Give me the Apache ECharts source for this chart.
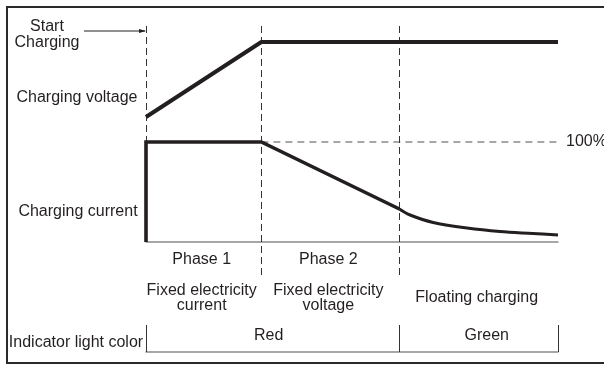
<!DOCTYPE html>
<html>
<head>
<meta charset="utf-8">
<script src="https://cdn.jsdelivr.net/npm/echarts@6/dist/echarts.min.js"></script>
<style>
  html, body { margin: 0; padding: 0; background: #ffffff; }
  #chart { width: 604px; height: 365px; }
</style>
</head>
<body>
<div id="chart"></div>
<script>
// Time axis (arbitrary units): start of charging, end of phase 1, end of phase 2, end of plot
const phaseEdges = [0, 2.8, 6.15, 10];
const phaseNames = ['Phase 1', 'Phase 2'];
const modeNames = ['Fixed electricity\ncurrent', 'Fixed electricity\nvoltage', 'Floating charging'];
const lightNames = ['Red', 'Green'];
const lightEdges = [0, 6.15, 10];

// Charging voltage (relative level, 0..100)
const voltageTime = [0, 2.8, 10];
const voltageLevel = [25, 100, 100];

// Charging current (% of rated current): constant part and linear decline
const currentTime = [0, 0, 2.8, 6.15];
const currentLevel = [0, 100, 100, 33];

// Charging current: floating tail
const tailTime = [6.15, 6.41, 6.97, 7.79, 8.59, 9.39, 10];
const tailLevel = [33, 27, 19.5, 14, 10.5, 8.5, 7];

const fullLevel = 100;

const zip = (a, b) => a.map((v, i) => [v, b[i]]);
const INK = '#231f20';
const FONT = '"Liberation Sans", Arial, sans-serif';

const chart = echarts.init(document.getElementById('chart'), null, { renderer: 'canvas' });

const hiddenY = (min, max, gridIndex) => ({
  type: 'value', gridIndex, min, max, show: false, splitLine: { show: false }
});

const option = {
  backgroundColor: '#ffffff',
  animation: false,
  grid: [
    { left: 146, width: 412, top: 42, height: 100 },   // voltage
    { left: 146, width: 412, top: 23, height: 252 },   // current + phase lines
    { left: 146, width: 412, top: 325, height: 27 }    // indicator row
  ],
  xAxis: [
    { type: 'value', gridIndex: 0, min: 0, max: 10, show: false },
    {
      type: 'value', gridIndex: 1, min: 0, max: 10,
      axisLine: { show: true, onZero: true, lineStyle: { color: '#8a8a8a', width: 1.5 } },
      axisTick: { show: false }, axisLabel: { show: false }, splitLine: { show: false }
    },
    {
      type: 'value', gridIndex: 2, min: 0, max: 10,
      axisLine: { show: true, lineStyle: { color: '#8a8a8a', width: 1.5 } },
      axisTick: { show: false }, axisLabel: { show: false }, splitLine: { show: false }
    }
  ],
  yAxis: [
    hiddenY(0, 100, 0),
    hiddenY(-33, 219, 1),
    hiddenY(0, 1, 2)
  ],
  series: [
    {
      name: 'Charging voltage', type: 'line', xAxisIndex: 0, yAxisIndex: 0,
      data: zip(voltageTime, voltageLevel), symbol: 'none', clip: false, z: 5,
      lineStyle: { color: INK, width: 4 }
    },
    {
      name: 'Charging current', type: 'line', xAxisIndex: 1, yAxisIndex: 1,
      data: zip(currentTime, currentLevel), symbol: 'none', clip: false, z: 5,
      lineStyle: { color: INK, width: 3.6, join: 'miter' },
      markLine: {
        silent: true, symbol: 'none',
        lineStyle: { color: '#8a8a8a', type: [7, 5], width: 1.5 },
        label: {
          show: true, position: 'end', distance: 8, formatter: '100%',
          color: INK, fontSize: 16, fontFamily: FONT
        },
        data: [[{ coord: [phaseEdges[1], fullLevel] }, { coord: [phaseEdges[3], fullLevel] }]]
      }
    },
    {
      name: 'Floating current', type: 'line', xAxisIndex: 1, yAxisIndex: 1,
      data: zip(tailTime, tailLevel), symbol: 'none', smooth: 0.35, clip: false, z: 5,
      lineStyle: { color: INK, width: 3 }
    },
    {
      name: 'Phase lines', type: 'line', xAxisIndex: 1, yAxisIndex: 1, data: [], z: 2,
      markLine: {
        silent: true, symbol: 'none', label: { show: false },
        lineStyle: { color: '#333333', type: [7, 4], width: 1 },
        data: [
          [{ coord: [phaseEdges[0], 0] }, { coord: [phaseEdges[0], 219] }],
          { xAxis: phaseEdges[1] },
          { xAxis: phaseEdges[2] }
        ]
      }
    },
    {
      name: 'Indicator cells', type: 'line', xAxisIndex: 2, yAxisIndex: 2, data: [], z: 2,
      markLine: {
        silent: true, symbol: 'none', label: { show: false },
        lineStyle: { color: '#333333', type: 'solid', width: 1 },
        data: lightEdges.map(t => ({ xAxis: t }))
      }
    }
  ]
};

chart.setOption(option);

// Text annotations, positioned on the shared time scale
const px = t => chart.convertToPixel({ gridIndex: 1 }, [t, 0])[0];
const mid = (a, b) => (px(a) + px(b)) / 2;
const text = (str, x, y, extra) => ({
  type: 'text', x, y, z: 10, silent: true,
  style: Object.assign({
    text: str, align: 'center', verticalAlign: 'middle',
    fontSize: 16, fontFamily: FONT, fill: INK, lineHeight: 15
  }, extra || {})
});

const graphics = [];
// frame
const frame = { stroke: '#2a2a2a', lineWidth: 2 };
graphics.push({ type: 'line', shape: { x1: 6, y1: 7, x2: 604, y2: 7 }, style: frame });
graphics.push({ type: 'line', shape: { x1: 7, y1: 6, x2: 7, y2: 364 }, style: frame });
graphics.push({ type: 'line', shape: { x1: 6, y1: 363, x2: 604, y2: 363 }, style: frame });

// "Start Charging" pointer
const startX = px(phaseEdges[0]);
graphics.push(text('Start\nCharging', 47, 35, { lineHeight: 16 }));
graphics.push({ type: 'line', shape: { x1: 84, y1: 31, x2: startX - 1, y2: 31 }, style: { stroke: INK, lineWidth: 1 } });
graphics.push({ type: 'polygon', shape: { points: [[startX, 31], [startX - 7, 29], [startX - 7, 33]] }, style: { fill: INK } });

// row labels
graphics.push(text('Charging voltage', 77, 98));
graphics.push(text('Charging current', 78, 212));
graphics.push(text('Indicator light color', 76, 343));

// phases
phaseNames.forEach((n, i) => graphics.push(text(n, mid(phaseEdges[i], phaseEdges[i + 1]) - 2, 260)));
modeNames.forEach((n, i) => graphics.push(text(n, mid(phaseEdges[i], phaseEdges[i + 1]) - 2, 298)));
// light colours sit slightly off-centre in their cells
const lightShift = [-4, 8];
lightNames.forEach((n, i) => graphics.push(text(n, mid(lightEdges[i], lightEdges[i + 1]) + lightShift[i], 336)));

chart.setOption({ graphic: graphics });
</script>
</body>
</html>
